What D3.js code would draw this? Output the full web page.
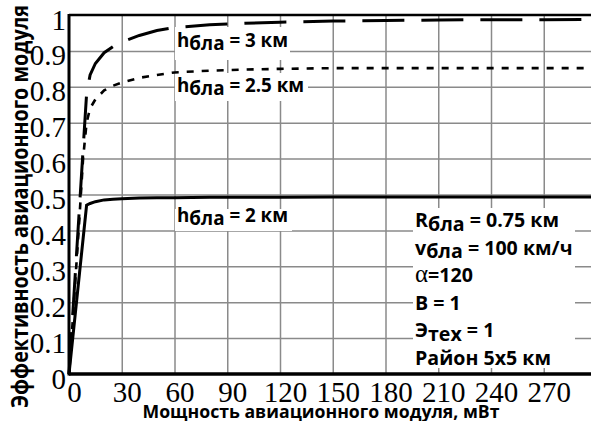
<!DOCTYPE html>
<html>
<head>
<meta charset="utf-8">
<script src="https://cdn.jsdelivr.net/npm/d3@7"></script>
<style>
  html, body { margin: 0; padding: 0; background: #fff; }
  svg { display: block; }
</style>
</head>
<body>
<div id="container"></div>
<script>
// data
const power = [0, 2, 4, 6, 8, 10, 12, 15, 20, 25, 30, 40, 50, 60, 80, 100, 120, 150, 180, 210, 240, 270, 300];
const eff3km = [0, 0.156, 0.312, 0.468, 0.624, 0.78, 0.833, 0.865, 0.895, 0.912, 0.925, 0.943, 0.957, 0.965, 0.973, 0.977, 0.98, 0.983, 0.985, 0.986, 0.987, 0.987, 0.988];
const eff25km = [0, 0.14, 0.29, 0.44, 0.6, 0.7, 0.74, 0.765, 0.79, 0.803, 0.812, 0.825, 0.833, 0.84, 0.845, 0.848, 0.85, 0.852, 0.852, 0.852, 0.852, 0.852, 0.852];
const eff2km = [0, 0.094, 0.188, 0.282, 0.376, 0.47, 0.475, 0.48, 0.485, 0.487, 0.488, 0.49, 0.491, 0.491, 0.492, 0.492, 0.492, 0.493, 0.493, 0.493, 0.493, 0.493, 0.493];

const xTicks = [0, 30, 60, 90, 120, 150, 180, 210, 240, 270];
const yTicks = [0, 0.1, 0.2, 0.3, 0.4, 0.5, 0.6, 0.7, 0.8, 0.9, 1];
const yTickLabels = ['0', '0.1', '0.2', '0.3', '0.4', '0.5', '0.6', '0.7', '0.8', '0.9', '1'];

const params = [
    { main: 'R', sub: 'бла', rest: ' = 0.75 км' },
    { main: 'v', sub: 'бла', rest: ' = 100 км/ч' },
    { alpha: 'α', rest: '=120' },
    { main: 'B = 1' },
    { main: 'Э', sub: 'тех', rest: ' = 1' },
    { main: 'Район 5x5 км' }
];

const W = 591, H = 421;
const plotLeft = 69, plotTop = 15, plotBottom = 374;

const svg = d3.select('#container').append('svg')
    .attr('width', W).attr('height', H);

svg.append('rect').attr('width', W).attr('height', H).attr('fill', '#fff');

const x = d3.scaleLinear().domain([0, 300]).range([plotLeft, plotLeft + 300 * 52.75 / 30]);
const y = d3.scaleLinear().domain([0, 1]).range([plotBottom, plotTop]);

// grid
const gx = svg.append('g')
    .attr('transform', `translate(0,${plotBottom})`)
    .call(d3.axisBottom(x).tickValues(xTicks.slice(1).concat([300])).tickSize(-(plotBottom - plotTop)).tickFormat(''));
gx.select('.domain').remove();
gx.selectAll('line').attr('stroke', '#8a8a8a').attr('stroke-width', 1.5);

const gy = svg.append('g')
    .attr('transform', `translate(${plotLeft},0)`)
    .call(d3.axisLeft(y).tickValues(yTicks.slice(1, -1)).tickSize(-(W - plotLeft)).tickFormat(''));
gy.select('.domain').remove();
gy.selectAll('line').attr('stroke', '#8a8a8a').attr('stroke-width', 1.5);

// white boxes behind labels
const boxes = [
    [175, 27, 115, 33],
    [175, 73, 133, 28],
    [175, 209, 117, 22],
    [413, 208, 162, 160]
];
svg.selectAll('rect.box').data(boxes).enter().append('rect')
    .attr('class', 'box')
    .attr('x', d => d[0]).attr('y', d => d[1])
    .attr('width', d => d[2]).attr('height', d => d[3])
    .attr('fill', '#fff');

// curves
const line = d3.line().x((d, i) => x(power[i])).y(d => y(d));

svg.append('path').datum(eff2km)
    .attr('d', line).attr('fill', 'none')
    .attr('stroke', '#000').attr('stroke-width', 3);

svg.append('path').datum(eff25km)
    .attr('d', line).attr('fill', 'none')
    .attr('stroke', '#000').attr('stroke-width', 2.6)
    .attr('stroke-dasharray', '7,8');

svg.append('path').datum(eff3km)
    .attr('d', line).attr('fill', 'none')
    .attr('stroke', '#000').attr('stroke-width', 3)
    .attr('stroke-dasharray', '42,17');

// frame
svg.append('line').attr('x1', plotLeft).attr('x2', W).attr('y1', plotTop).attr('y2', plotTop)
    .attr('stroke', '#000').attr('stroke-width', 2.5);
svg.append('line').attr('x1', plotLeft).attr('x2', W).attr('y1', plotBottom).attr('y2', plotBottom)
    .attr('stroke', '#000').attr('stroke-width', 3.5);
svg.append('line').attr('x1', plotLeft).attr('x2', plotLeft).attr('y1', plotTop - 1).attr('y2', plotBottom + 1.5)
    .attr('stroke', '#000').attr('stroke-width', 3);

// tick labels
const ax = svg.append('g')
    .attr('transform', `translate(0,${plotBottom})`)
    .call(d3.axisBottom(x).tickValues(xTicks).tickSize(0).tickFormat(d3.format('d')));
ax.select('.domain').remove();
ax.selectAll('text')
    .attr('y', 28).attr('x', 5).attr('dy', null)
    .attr('font-family', '"Liberation Serif", serif')
    .attr('font-size', 29).attr('fill', '#000');

const ay = svg.append('g')
    .attr('transform', `translate(${plotLeft},0)`)
    .call(d3.axisLeft(y).tickValues(yTicks).tickSize(0).tickFormat((d, i) => yTickLabels[i]));
ay.select('.domain').remove();
ay.selectAll('text')
    .attr('x', -3).attr('y', 14).attr('dy', null)
    .attr('font-family', '"Liberation Serif", serif')
    .attr('font-size', 29).attr('fill', '#000');

// axis titles
svg.append('text')
    .attr('transform', 'translate(28,206.5) rotate(-90)')
    .attr('text-anchor', 'middle')
    .attr('font-family', '"Open Sans", sans-serif')
    .attr('font-weight', 'bold')
    .attr('font-size', 23)
    .attr('textLength', 403)
    .attr('lengthAdjust', 'spacingAndGlyphs')
    .text('Эффективность авиационного модуля');

svg.append('text')
    .attr('x', 321).attr('y', 418)
    .attr('text-anchor', 'middle')
    .attr('font-family', '"Open Sans", sans-serif')
    .attr('font-weight', 'bold')
    .attr('font-size', 18)
    .attr('textLength', 357)
    .attr('lengthAdjust', 'spacingAndGlyphs')
    .text('Мощность авиационного модуля, мВт');

// curve labels
const curveLabels = [
    { x: 177, y: 47, val: '3' },
    { x: 177, y: 92, val: '2.5' },
    { x: 177, y: 222, val: '2' }
];
curveLabels.forEach(c => {
    const t = svg.append('text')
        .attr('x', c.x).attr('y', c.y)
        .attr('font-family', '"Open Sans", sans-serif')
        .attr('font-weight', 'bold')
        .attr('font-size', 18.8);
    t.append('tspan').text('h');
    t.append('tspan').attr('dy', 3).text('бла');
    t.append('tspan').attr('dy', -3).text(' = ' + c.val + ' км');
});

// parameter block
params.forEach((p, i) => {
    const t = svg.append('text')
        .attr('x', 415).attr('y', 227 + i * 27.6)
        .attr('font-family', '"Open Sans", sans-serif')
        .attr('font-weight', 'bold')
        .attr('font-size', 19.6);
    if (p.alpha) {
        t.append('tspan')
            .attr('font-family', '"Liberation Serif", serif')
            .attr('font-weight', 'normal')
            .attr('font-size', 25)
            .text(p.alpha);
    }
    if (p.main) t.append('tspan').text(p.main);
    if (p.sub) {
        t.append('tspan').attr('dy', 3.5).text(p.sub);
        t.append('tspan').attr('dy', -3.5).text(p.rest);
    } else if (p.rest) {
        t.append('tspan').text(p.rest);
    }
});
</script>
</body>
</html>
